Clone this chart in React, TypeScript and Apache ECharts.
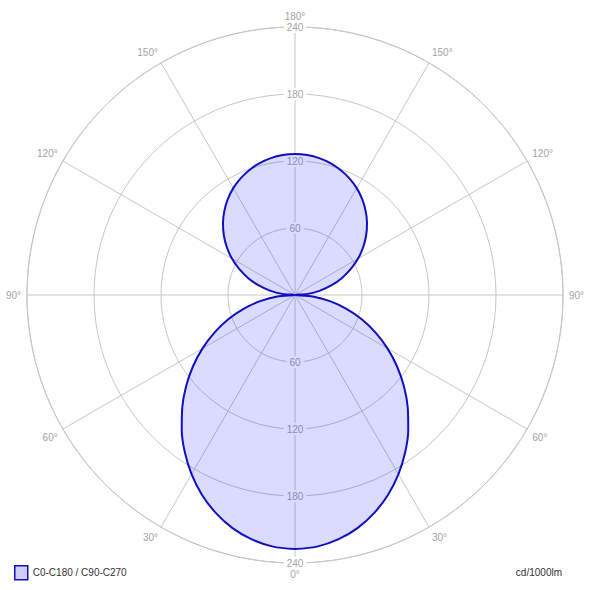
import { useEffect, useRef } from "react";
import * as echarts from "echarts";

// Luminous intensity, cd/1000lm (0° = down, 180° = up)
const ANGLES = [
  0, 5, 10, 15, 20, 25, 30, 35, 40, 45, 50, 55, 60, 65, 70, 75, 80, 85, 90,
  95, 100, 105, 110, 115, 120, 125, 130, 135, 140, 145, 150, 155, 160, 165, 170, 175, 180,
];
const INTENSITY = [
  227.5, 226.2, 222.3, 216.1, 207.6, 197.3, 185.3, 172.0, 157.8, 142.8, 127.4, 111.6, 95.6, 79.6, 63.6, 47.7, 31.7, 15.9, 0,
  11.5, 22.8, 34.0, 44.8, 55.2, 65.2, 74.5, 83.2, 91.2, 98.4, 104.9, 110.5, 115.3, 119.2, 122.3, 124.5, 125.8, 126.3,
];
const RADIUS_MAX = 240;
const RADIUS_STEP = 60;
const ANGLE_STEP = 30;
const SERIES_NAME = "C0-C180 / C90-C270";
const UNIT = "cd/1000lm";

const GRID = "#c6c6c6";
const LABEL = "#a3a3a3";
const FONT = "'Liberation Sans', Arial, sans-serif";
const CENTER = [295, 295];
const RADIUS = 268;

export default function App() {
  const ref = useRef<HTMLDivElement>(null);

  useEffect(() => {
    if (!ref.current) return;
    const chart = echarts.init(ref.current, null, { renderer: "svg" });

    // C0 half then mirrored C180 half (symmetric distribution)
    const curve: number[][] = ANGLES.map((a, i) => [INTENSITY[i], a]);
    for (let i = ANGLES.length - 2; i >= 0; i--) curve.push([INTENSITY[i], 360 - ANGLES[i]]);

    const ringLabels = {
      show: true,
      margin: 0,
      align: "center",
      verticalAlign: "middle",
      backgroundColor: "#fff",
      padding: [1, 3],
      color: LABEL,
      fontSize: 10,
      fontFamily: FONT,
      showMinLabel: false,
    };
    const labelOnlyRadius = (polarIndex: number) => ({
      polarIndex,
      type: "value",
      min: 0,
      max: RADIUS_MAX,
      interval: RADIUS_STEP,
      axisLine: { show: false },
      axisTick: { show: false },
      splitLine: { show: false },
      axisLabel: ringLabels,
      z: 1,
    });
    const hiddenAngle = (polarIndex: number, startAngle: number) => ({
      polarIndex,
      type: "value",
      min: 0,
      max: 360,
      startAngle,
      show: false,
    });

    chart.setOption({
      animation: false,
      backgroundColor: "#fff",
      textStyle: { fontFamily: FONT },
      polar: [
        { center: CENTER, radius: RADIUS },
        { center: CENTER, radius: RADIUS },
        { center: CENTER, radius: RADIUS },
      ],
      angleAxis: [
        {
          polarIndex: 0,
          type: "value",
          min: 0,
          max: 360,
          interval: ANGLE_STEP,
          startAngle: 270,
          clockwise: true,
          axisLine: { show: true, lineStyle: { color: GRID, width: 1 } },
          axisTick: { show: false },
          axisLabel: {
            color: LABEL,
            fontSize: 10,
            fontFamily: FONT,
            margin: 6,
            formatter: (v: number) => `${v > 180 ? 360 - v : v}°`,
          },
          splitLine: { show: true, lineStyle: { color: GRID, width: 1 } },
        },
        hiddenAngle(1, 90),
        hiddenAngle(2, 270),
      ],
      radiusAxis: [
        {
          polarIndex: 0,
          type: "value",
          min: 0,
          max: RADIUS_MAX,
          interval: RADIUS_STEP,
          axisLine: { show: false },
          axisTick: { show: false },
          axisLabel: { show: false },
          splitLine: { show: true, lineStyle: { color: GRID, width: 1 } },
        },
        labelOnlyRadius(1),
        labelOnlyRadius(2),
      ],
      legend: {
        left: 14,
        top: 565,
        padding: 0,
        itemWidth: 13,
        itemHeight: 14,
        itemGap: 6,
        textStyle: { color: "#333", fontSize: 10, fontFamily: FONT },
        data: [
          {
            name: SERIES_NAME,
            icon: "rect",
            itemStyle: { color: "#ccccff", borderColor: "#1010c0", borderWidth: 1.5 },
          },
        ],
      },
      title: {
        text: UNIT,
        right: 28,
        top: 567,
        padding: 0,
        textStyle: { fontSize: 10, fontWeight: "normal", color: "#333", fontFamily: FONT },
      },
      series: [
        {
          name: SERIES_NAME,
          type: "line",
          coordinateSystem: "polar",
          polarIndex: 0,
          data: curve,
          symbol: "none",
          smooth: 0.3,
          lineStyle: { color: "#1010c0", width: 2 },
          itemStyle: { color: "#1010c0" },
          areaStyle: { color: "rgba(0,0,255,0.2)" },
          z: 3,
        },
      ],
    });

    return () => chart.dispose();
  }, []);

  return <div ref={ref} style={{ position: "fixed", left: 0, top: 0, width: 590, height: 590 }} />;
}
